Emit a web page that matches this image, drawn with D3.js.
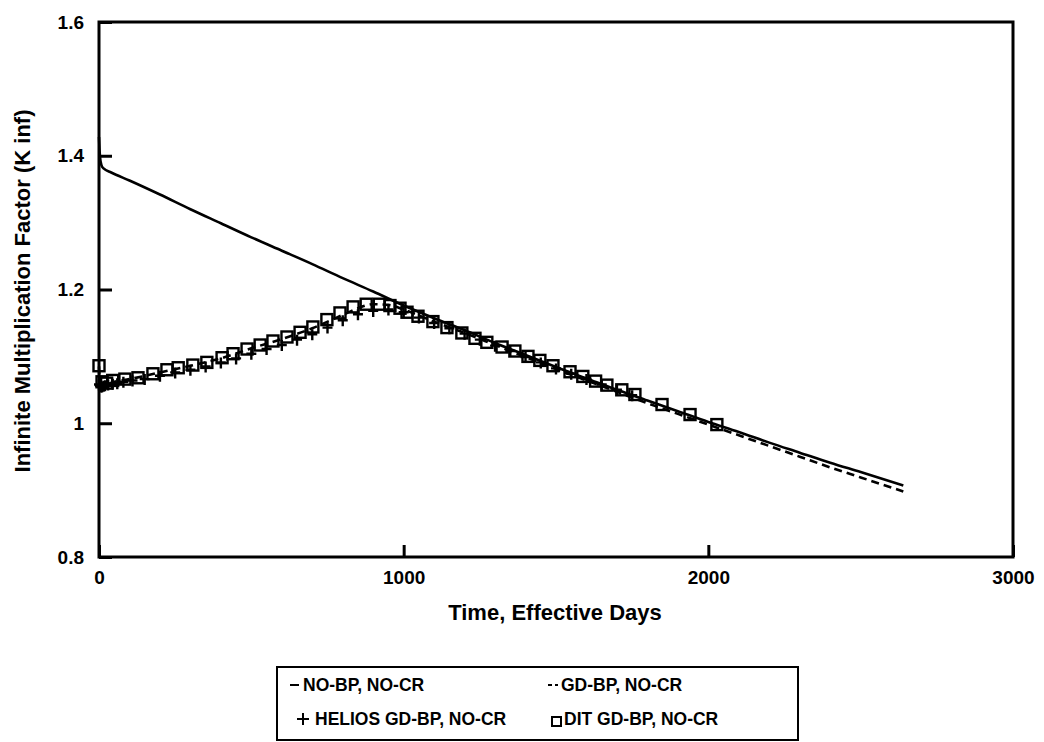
<!DOCTYPE html>
<html>
  <head>
    <meta charset="utf-8">
    <title>K inf vs Time</title>
    <script src="https://d3js.org/d3.v7.min.js" type="text/javascript"></script>
    <style>
      body { margin: 0; background: #fff; }
      text { font-family: "Liberation Sans", Arial, sans-serif; fill: #000; }
    </style>
  </head>
  <body>
    <script>
      // chart values
      var noBpDays = [0, 3, 8, 15, 40, 100, 200, 300, 400, 500, 600, 700, 800, 900, 1000, 1100, 1200, 1300, 1400, 1500, 1600, 1700, 1800, 1900, 2000, 2100, 2200, 2300, 2400, 2500, 2640];
      var noBpK = [1.428, 1.400, 1.386, 1.381, 1.375, 1.363, 1.342, 1.320, 1.299, 1.278, 1.258, 1.238, 1.217, 1.197, 1.176, 1.157, 1.139, 1.120, 1.102, 1.084, 1.067, 1.050, 1.034, 1.018, 1.002, 0.987, 0.971, 0.956, 0.941, 0.927, 0.907];

      var gdBpDays = [0, 2, 5, 10, 20, 50, 100, 200, 300, 400, 500, 600, 700, 800, 850, 900, 950, 1000, 1100, 1200, 1300, 1400, 1500, 1600, 1700, 1800, 1900, 2000, 2100, 2200, 2300, 2400, 2500, 2640];
      var gdBpK = [1.085, 1.065, 1.060, 1.058, 1.058, 1.062, 1.066, 1.076, 1.086, 1.097, 1.112, 1.126, 1.142, 1.162, 1.172, 1.178, 1.177, 1.170, 1.152, 1.135, 1.117, 1.099, 1.081, 1.064, 1.047, 1.030, 1.014, 0.998, 0.982, 0.966, 0.950, 0.934, 0.919, 0.898];

      var heliosDays = [0, 3, 6, 10, 15, 20, 30, 45, 60, 80, 110, 150, 200, 250, 300, 350, 400, 450, 500, 550, 600, 650, 700, 750, 800, 850, 900, 950, 1000, 1050, 1100, 1150, 1200, 1250, 1300, 1350, 1400, 1450, 1500, 1550, 1600, 1650, 1700, 1750];
      var heliosK = [1.058, 1.056, 1.055, 1.055, 1.056, 1.057, 1.058, 1.059, 1.060, 1.062, 1.064, 1.066, 1.071, 1.076, 1.080, 1.085, 1.091, 1.097, 1.104, 1.111, 1.117, 1.125, 1.133, 1.143, 1.154, 1.163, 1.168, 1.170, 1.166, 1.158, 1.150, 1.142, 1.134, 1.125, 1.116, 1.108, 1.099, 1.091, 1.082, 1.074, 1.066, 1.058, 1.050, 1.042];

      var ditDays = [0, 10, 25, 45, 85, 128, 177, 223, 260, 308, 354, 404, 440, 486, 529, 571, 617, 660, 702, 748, 791, 834, 877, 920, 955, 988, 1011, 1047, 1096, 1142, 1191, 1234, 1273, 1323, 1365, 1408, 1447, 1490, 1546, 1588, 1630, 1667, 1716, 1759, 1848, 1940, 2028];
      var ditK = [1.086, 1.062, 1.060, 1.064, 1.066, 1.068, 1.074, 1.080, 1.083, 1.087, 1.091, 1.098, 1.104, 1.111, 1.117, 1.123, 1.129, 1.136, 1.144, 1.155, 1.165, 1.174, 1.178, 1.178, 1.176, 1.172, 1.166, 1.160, 1.152, 1.143, 1.135, 1.127, 1.121, 1.114, 1.108, 1.100, 1.094, 1.086, 1.077, 1.070, 1.063, 1.057, 1.050, 1.043, 1.028, 1.013, 0.998];

      var xTicks = [0, 1000, 2000, 3000];
      var yTicks = [0.8, 1, 1.2, 1.4, 1.6];

      var legendItems = [
        {label: "NO-BP, NO-CR", kind: "solid"},
        {label: "GD-BP, NO-CR", kind: "dash"},
        {label: "HELIOS GD-BP, NO-CR", kind: "plus"},
        {label: "DIT GD-BP, NO-CR", kind: "square"}
      ];

      var W = 1044, H = 742;
      var plotLeft = 99, plotTop = 22, plotRight = 1013, plotBottom = 557;

      var x = d3.scaleLinear().domain([0, 3000]).range([plotLeft, plotRight]);
      var y = d3.scaleLinear().domain([0.8, 1.6]).range([plotBottom, plotTop]);

      var svg = d3.select("body").append("svg")
                  .attr("width", W)
                  .attr("height", H);

      function zip(a, b) {
        return a.map(function(d, i) { return [d, b[i]]; });
      }

      var line = d3.line()
                   .x(function(d) { return x(d[0]); })
                   .y(function(d) { return y(d[1]); })
                   .curve(d3.curveMonotoneX);

      // curves
      svg.append("path")
         .attr("d", line(zip(noBpDays, noBpK)))
         .attr("fill", "none")
         .attr("stroke", "#000")
         .attr("stroke-width", 2.6);

      svg.append("path")
         .attr("d", line(zip(gdBpDays, gdBpK)))
         .attr("fill", "none")
         .attr("stroke", "#000")
         .attr("stroke-width", 2.6)
         .attr("stroke-dasharray", "8,5");

      // HELIOS pluses
      svg.selectAll(".helios")
         .data(zip(heliosDays, heliosK))
         .enter().append("path")
         .attr("class", "helios")
         .attr("d", "M-5,0H5M0,-5V6")
         .attr("transform", function(d) { return "translate(" + x(d[0]) + "," + y(d[1]) + ")"; })
         .attr("fill", "none")
         .attr("stroke", "#000")
         .attr("stroke-width", 2.4);

      // DIT squares
      svg.selectAll(".dit")
         .data(zip(ditDays, ditK))
         .enter().append("rect")
         .attr("class", "dit")
         .attr("x", function(d) { return x(d[0]) - 5.5; })
         .attr("y", function(d) { return y(d[1]) - 5.5; })
         .attr("width", 11)
         .attr("height", 11)
         .attr("fill", "none")
         .attr("stroke", "#000")
         .attr("stroke-width", 2.4);

      // axes with inward ticks
      var yAxis = svg.append("g")
                     .attr("transform", "translate(" + plotLeft + ",0)")
                     .call(d3.axisLeft(y).tickValues(yTicks).tickSize(-13).tickPadding(15)
                       .tickFormat(function(d) { return d === 1 ? "1" : d3.format(".1f")(d); }));
      yAxis.select(".domain").remove();
      yAxis.selectAll("line").attr("stroke", "#000").attr("stroke-width", 3);
      yAxis.selectAll("text")
           .style("font-size", "19px").style("font-weight", "bold");

      var xAxis = svg.append("g")
                     .attr("transform", "translate(0," + plotBottom + ")")
                     .call(d3.axisBottom(x).tickValues(xTicks).tickSize(-12).tickPadding(14)
                       .tickFormat(d3.format("d")));
      xAxis.select(".domain").remove();
      xAxis.selectAll("line").attr("stroke", "#000").attr("stroke-width", 3);
      xAxis.selectAll("text")
           .style("font-size", "19px").style("font-weight", "bold");

      // frame
      svg.append("rect")
         .attr("x", plotLeft)
         .attr("y", plotTop)
         .attr("width", plotRight - plotLeft)
         .attr("height", plotBottom - plotTop)
         .attr("fill", "none")
         .attr("stroke", "#000")
         .attr("stroke-width", 3);

      // axis titles
      svg.append("text")
         .attr("x", 555)
         .attr("y", 620)
         .attr("text-anchor", "middle")
         .style("font-size", "22px")
         .style("font-weight", "bold")
         .text("Time, Effective Days");

      svg.append("text")
         .attr("transform", "translate(30,291) rotate(-90)")
         .attr("text-anchor", "middle")
         .style("font-size", "22px")
         .style("font-weight", "bold")
         .text("Infinite Multiplication Factor (K inf)");

      // legend
      var lg = svg.append("g");
      lg.append("rect")
        .attr("x", 277).attr("y", 667)
        .attr("width", 521).attr("height", 73)
        .attr("fill", "none")
        .attr("stroke", "#000")
        .attr("stroke-width", 2);

      var cellX = [290, 548];
      var cellY = [685, 719];
      legendItems.forEach(function(item, i) {
        var cx = cellX[i % 2], cy = cellY[Math.floor(i / 2)];
        var g = lg.append("g").attr("transform", "translate(" + cx + "," + cy + ")");
        var textX = 13;
        if (item.kind === "solid") {
          g.append("line").attr("x1", 0).attr("x2", 9).attr("y1", 0).attr("y2", 0)
           .attr("stroke", "#000").attr("stroke-width", 2);
        } else if (item.kind === "dash") {
          g.append("line").attr("x1", 0).attr("x2", 10).attr("y1", 0).attr("y2", 0)
           .attr("stroke", "#000").attr("stroke-width", 2).attr("stroke-dasharray", "4,3");
        } else if (item.kind === "plus") {
          g.append("path").attr("d", "M7,0H19M13,-6V6")
           .attr("fill", "none").attr("stroke", "#000").attr("stroke-width", 2);
          textX = 25;
        } else {
          g.append("rect").attr("x", 4).attr("y", -2).attr("width", 9).attr("height", 9)
           .attr("fill", "none").attr("stroke", "#000").attr("stroke-width", 2);
          textX = 16;
        }
        g.append("text")
         .attr("x", textX)
         .attr("y", 6)
         .style("font-size", "17.5px")
         .style("font-weight", "bold")
         .text(item.label);
      });
    </script>
  </body>
</html>
